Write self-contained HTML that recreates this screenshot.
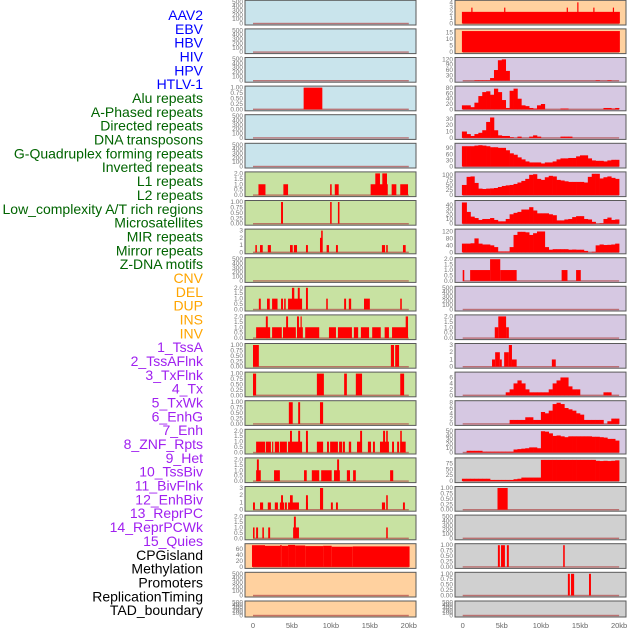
<!DOCTYPE html>
<html><head><meta charset="utf-8"><style>
body{margin:0;background:#fff;}
svg{display:block;font-family:"Liberation Sans",sans-serif;}
</style></head><body>
<svg id="chart" width="630" height="630" viewBox="0 0 630 630"></svg>
<script>
// ---- DATA ----
const trackLabels=["AAV2","EBV","HBV","HIV","HPV","HTLV-1","Alu repeats","A-Phased repeats","Directed repeats","DNA transposons","G-Quadruplex forming repeats","Inverted repeats","L1 repeats","L2 repeats","Low_complexity A/T rich regions","Microsatellites","MIR repeats","Mirror repeats","Z-DNA motifs","CNV","DEL","DUP","INS","INV","1_TssA","2_TssAFlnk","3_TxFlnk","4_Tx","5_TxWk","6_EnhG","7_Enh","8_ZNF_Rpts","9_Het","10_TssBiv","11_BivFlnk","12_EnhBiv","13_ReprPC","14_ReprPCWk","15_Quies","CPGisland","Methylation","Promoters","ReplicationTiming","TAD_boundary"];
const labelColors=["#0000ff","#0000ff","#0000ff","#0000ff","#0000ff","#0000ff","#006400","#006400","#006400","#006400","#006400","#006400","#006400","#006400","#006400","#006400","#006400","#006400","#006400","#ffa500","#ffa500","#ffa500","#ffa500","#ffa500","#a020f0","#a020f0","#a020f0","#a020f0","#a020f0","#a020f0","#a020f0","#a020f0","#a020f0","#a020f0","#a020f0","#a020f0","#a020f0","#a020f0","#a020f0","#000","#000","#000","#000","#000"];
const xTickValues=[0,5,10,15,20];
const xTickLabels=["0","5kb","10kb","15kb","20kb"];
// tick sets
const T500=[0,100,200,300,400,500], T500L=["0","100","200","300","400","500"];
const T1=[0,0.25,0.5,0.75,1], T1L=["0.00","0.25","0.50","0.75","1.00"];
const T2=[0,0.5,1,1.5,2], T2L=["0.0","0.5","1.0","1.5","2.0"];
const T3=[0,1,2,3], T3L=["0","1","2","3"];
// left column: segments [startKb,endKb,value]
const leftSegs=[
 [],[],[],
 [[6.5,8.9,1]],
 [],[],
 [[0.7,1.6,1],[3.9,4.5,1],[9.9,10.1,1],[10.5,11,1],[15.1,17.3,1],[15.7,16.3,2],[16.6,17.2,2],[17.8,18.4,1],[18.9,19.9,1]],
 [[3.6,3.85,1],[9.9,10.1,1],[10.9,11.1,1]],
 [[0.3,0.5,1],[0.9,1.25,1],[1.9,2.3,1],[4.75,5.1,1],[5.25,5.65,1],[6.8,7.05,1],[8.6,8.8,2],[8.75,8.95,3],[9.45,9.75,1],[10.65,10.9,1],[16.55,16.95,1],[17.1,17.3,1],[19.25,19.6,1]],
 [],
 [[0.75,1,1],[1.8,2.15,1],[2.45,3.15,1],[3.6,3.85,1],[4,4.2,1],[4.5,6.3,1],[5,5.3,2],[5.75,6,2],[6.8,7.05,2],[9.4,9.6,1],[11.7,11.95,1],[12.3,12.6,1],[14.25,15,1],[18.9,19.1,1]],
 [[0.4,2.2,1],[2.45,3.7,1],[3.85,5.5,1],[5.65,6.4,1],[6.7,8.5,1],[9.75,10.65,1],[10.9,12.7,1],[12.95,13.5,1],[13.85,14.9,1],[15.3,16.4,1],[16.9,17.45,1],[17.85,19.9,1],[1.65,1.9,2],[4.25,4.5,2],[5.65,5.9,2],[6.1,6.2,2],[19.6,19.9,2]],
 [[0,0.75,1],[17.7,18.1,1],[18.25,18.75,1]],
 [[0,0.4,1],[8.2,9.1,1],[11.7,12.05,1],[13.2,14,1],[18.9,19.4,1]],
 [[4.6,5.1,1],[5.8,6.05,1],[8.6,9,1]],
 [[0.4,1.55,1],[1.65,2.3,1],[2.45,2.6,1],[2.8,3.35,1],[3.45,4.35,1],[4.5,6.3,1],[6.8,7.05,1],[8.2,9,1],[9.5,9.75,1],[9.9,10.9,1],[11.05,11.45,1],[11.55,11.8,1],[12.3,12.6,1],[13.35,14,1],[14.75,15.15,1],[15.4,15.65,1],[16.3,17.45,1],[17.85,18.1,1],[18.5,18.75,1],[18.9,19.6,1],[4.75,5,2],[5.8,6.05,2],[6.8,7.05,2],[13.75,14,2],[16.7,16.95,2],[17.1,17.3,2],[18.9,19.1,2]],
 [[0.4,1,1],[2.7,3.45,1],[6.55,6.9,1],[7.55,8.5,1],[8.75,10.1,1],[10.4,11.15,1],[12.05,12.45,1],[12.85,13.2,1],[17.6,18,1],[0.5,0.75,2],[10.8,11.05,2]],
 [[0,0.25,1],[0.9,1.3,1],[1.9,2.3,1],[2.8,3.2,1],[3.45,4,1],[4.1,4.35,1],[4.5,5.9,1],[6.8,7.05,1],[10,10.25,1],[10.65,10.9,1],[16.55,16.95,1],[19.25,19.5,1],[3.6,3.85,2],[4.75,5.1,2],[6.8,7.05,2],[17.1,17.3,2],[8.6,9,3]],
 [[0,0.2,1],[0.4,0.65,1],[1.2,1.4,1],[1.95,2.2,1],[5.15,5.9,1],[17.1,17.3,1],[5.25,5.5,2]],
 [[-0.13,1.54,72],[1.54,3.47,70],[3.47,3.7,72],[3.7,4.5,70],[4.5,5.4,73],[5.4,6.7,71],[6.7,9,69],[9,10.1,70],[10.1,12.8,67],[12.8,20.1,68]],
 [],[]
];
const leftYmax=[500,500,500,1,500,500,2,1,3,500,2,2,1,1,1,2,2,3,2,72,500,500];
const leftTicks=[T500,T500,T500,T1,T500,T500,T2,T1,T3,T500,T2,T2,T1,T1,T1,T2,T2,T3,T2,[0,20,40,60],T500,T500];
const leftTickLabels=[T500L,T500L,T500L,T1L,T500L,T500L,T2L,T1L,T3L,T500L,T2L,T2L,T1L,T1L,T1L,T2L,T2L,T3L,T2L,["0","20","40","60"],T500L,T500L];
const leftBg=["#c9e4ec","#c9e4ec","#c9e4ec","#c9e4ec","#c9e4ec","#c9e4ec","#c8e2a2","#c8e2a2","#c8e2a2","#c8e2a2","#c8e2a2","#c8e2a2","#c8e2a2","#c8e2a2","#c8e2a2","#c8e2a2","#c8e2a2","#c8e2a2","#c8e2a2","#ffd19f","#ffd19f","#ffd19f"];
// right column: 0.5kb-bin profiles (null => use segments)
const rBins2=[0,0,0,3,3,3,3,15,60,115,120,55,0,0,0,0,0,0,0,0,0,0,0,0,0,0,0,0,0,0,0,0,0,0,3,0,0,3,0,0];
const rBins3=[15,15,8,25,50,65,68,55,78,65,35,5,70,78,40,15,12,5,3,15,20,0,0,0,0,3,3,0,0,0,0,0,0,0,0,0,5,5,3,5];
const rBins4=[10,6,3,6,8,12,25,32,12,4,3,3,1,0,2,0,0,2,4,2,0,0,0,0,0,2,2,2,0,0,0,0,0,0,0,0,0,0,0,0];
const rBins5=[100,100,100,103,105,103,100,95,95,92,92,80,65,58,45,35,25,20,20,20,15,20,20,25,35,40,40,42,42,50,55,55,40,30,28,28,25,30,33,33];
const rBins6=[50,90,92,60,32,30,32,33,35,40,45,48,50,55,62,70,80,100,103,80,75,88,95,92,75,72,68,65,65,65,65,62,90,105,105,82,88,92,85,80];
const rBins7=[45,25,15,12,8,10,10,12,8,5,5,10,20,23,25,30,30,35,28,22,22,22,20,18,7,7,9,10,14,16,16,10,9,4,0,1,10,13,8,9];
const rBins8=[50,50,52,80,50,45,45,40,30,5,5,5,30,100,118,118,115,100,110,120,120,30,15,18,18,18,18,15,16,15,15,8,0,3,40,45,42,43,45,50];
const rBins13=[0,0,0,0,0,0,0,0,0,0,0,1,2,4,5,4,2,1,1,1,1,1,2,4,5,6,6,3,2,2,0,0,0,0,0,0,1,1,0,0];
const rBins14=[0,0,0,0,0,0,0,0,0,0,0,0,1.5,1.5,1.5,1.5,2.5,2.5,1.5,1.5,4.5,4,5,7.5,8,7.5,6,5.5,5,4,3.5,1.5,1.5,1.5,1.5,1.5,0,1,2,2];
const rBins15=[0,4,4,4,4,2,2,2,2,2,2,2,2,7,8,9,10,12,12,10,50,49,45,39,40,38,36,38,38,38,38,38,38,37,37,36,35,32,32,28];
const rBins16=[10,10,10,10,10,10,10,5,5,5,5,5,5,8,10,15,15,15,15,15,90,90,90,90,90,90,90,90,90,90,90,90,90,90,86,85,86,85,86,88];
const rightBins=[null,null,rBins2,rBins3,rBins4,rBins5,rBins6,rBins7,rBins8,null,null,null,null,rBins13,rBins14,rBins15,rBins16,null,null,null,null,null];
const rightSegs=[
 [[-0.1,20.1,2.2],[1.1,1.2,3],[5.3,5.45,3],[13.3,13.4,3],[16.7,16.85,3],[19.2,19.35,3],[14.65,14.8,4]],
 [[-0.1,20.1,16]],
 [],[],[],[],[],[],[],
 [[0,0.2,1],[0.95,3.5,1],[3.5,4.8,2],[4.8,6.9,1],[12.65,13.4,1],[14.5,15.1,1]],
 [],
 [[4.1,4.55,1],[4.55,5.55,2],[5.55,5.9,1]],
 [[3.75,4.15,1],[4.15,4.75,2],[4.75,5,1],[5.3,5.9,2],[5.9,6.3,3],[6.3,6.9,1],[11.4,11.9,1]],
 [],[],[],[],
 [[4.45,5.75,1]],
 [],
 [[4.5,4.75,1],[4.9,5.4,1],[5.65,5.9,1],[12.85,13.05,1]],
 [[13.45,13.7,1],[13.85,14.25,1],[16.15,16.4,1]],
 []
];
const rightYmax=[4.1,16.5,122,82,34,107,107,46,125,2,500,2,3,7.3,8.2,51,92,1,500,1,1,500];
const rightTicks=[[0,1,2,3,4],[0,5,10,15],[0,30,60,90,120],[0,20,40,60,80],[0,10,20,30],[0,30,60,90],[0,25,50,75,100],[0,10,20,30,40],[0,40,80,120],T2,T500,T2,T3,[0,2,4,6],[0,2,4,6,8],[0,10,20,30,40,50],[0,25,50,75],T1,T500,T1,T1,T500];
const rightTickLabels=[["0","1","2","3","4"],["0","5","10","15"],["0","30","60","90","120"],["0","20","40","60","80"],["0","10","20","30"],["0","30","60","90"],["0","25","50","75","100"],["0","10","20","30","40"],["0","40","80","120"],T2L,T500L,T2L,T3L,["0","2","4","6"],["0","2","4","6","8"],["0","10","20","30","40","50"],["0","25","50","75"],T1L,T500L,T1L,T1L,T500L];
const rightBg=["#ffd19f","#ffd19f","#d6c8e2","#d6c8e2","#d6c8e2","#d6c8e2","#d6c8e2","#d6c8e2","#d6c8e2","#d6c8e2","#d6c8e2","#d6c8e2","#d6c8e2","#d6c8e2","#d6c8e2","#d6c8e2","#d0d0d0","#d0d0d0","#d0d0d0","#d0d0d0","#d0d0d0","#d0d0d0"];

// ---- DRAW ----
const NS="http://www.w3.org/2000/svg";
const svg=document.getElementById('chart');
function mk(tag,attrs,parent){const e=document.createElementNS(NS,tag);for(const k in attrs)e.setAttribute(k,attrs[k]);(parent||svg).appendChild(e);return e;}
function rowTop(i){return i<21?0.3+28.6*i:601;}
function rowH(i){return i<21?24.7:16;}
const cols=[{px:245,pw:171,x0:253,k:7.79,segs:leftSegs,bins:null,ymax:leftYmax,ticks:leftTicks,tl:leftTickLabels,bg:leftBg,name:'left'},
            {px:455,pw:171,x0:462.7,k:7.82,segs:rightSegs,bins:rightBins,ymax:rightYmax,ticks:rightTicks,tl:rightTickLabels,bg:rightBg,name:'right'}];
cols.forEach(c=>{
 for(let i=0;i<22;i++){
  const top=rowTop(i),h=rowH(i),bot=top+h;
  const g=mk('g',{});
  
  
  const bg=mk('rect',{x:c.px,y:top,width:c.pw,height:h,fill:c.bg[i],stroke:'#5a5a5a','stroke-width':1},g);
  
  
  const ymax=c.ymax[i];
  const xs=kb=>c.x0+kb*c.k;
  const ys=v=>bot-1.5-v/ymax*(h-3);
  // baseline
  const bl=mk('rect',{x:xs(0),y:bot-2.2,width:xs(20)-xs(0),height:1.4,fill:'#b04848','fill-opacity':0.7},g);
  
  
  const b=c.bins&&c.bins[i];
  if(b){b.forEach((v,j)=>{if(v<=0)return;
    const r=mk('rect',{x:xs(j*0.5-(j==0?0.1:0)),y:ys(v),width:xs((j+1)*0.5)-xs(j*0.5-(j==0?0.1:0))+0.3,height:ys(0)-ys(v),fill:'#ff0000'},g);
    
    });}
  c.segs[i].forEach(s=>{
    const r=mk('rect',{x:xs(s[0]),y:ys(s[2]),width:Math.max(1.2,xs(s[1])-xs(s[0])),height:ys(0)-ys(s[2]),fill:'#ff0000'},g);
    
    });
  c.ticks[i].forEach((t,j)=>{
    const tx=mk('text',{x:c.px-2,y:ys(t)+2,'text-anchor':'end','font-size':6.5,fill:'#777'},g);
    tx.textContent=c.tl[i][j];
    
    });
 }
 xTickValues.forEach((v,j)=>{
  const tx=mk('text',{x:c.x0+v*c.k,y:628,'text-anchor':'middle','font-size':7.5,fill:'#666'});
  tx.textContent=xTickLabels[j];
  
  });
});
trackLabels.forEach((l,i)=>{
 const tx=mk('text',{x:203,y:20+i*13.84,'text-anchor':'end','font-size':14,fill:labelColors[i]});
 tx.textContent=l;
 
 
});
</script>
</body></html>
